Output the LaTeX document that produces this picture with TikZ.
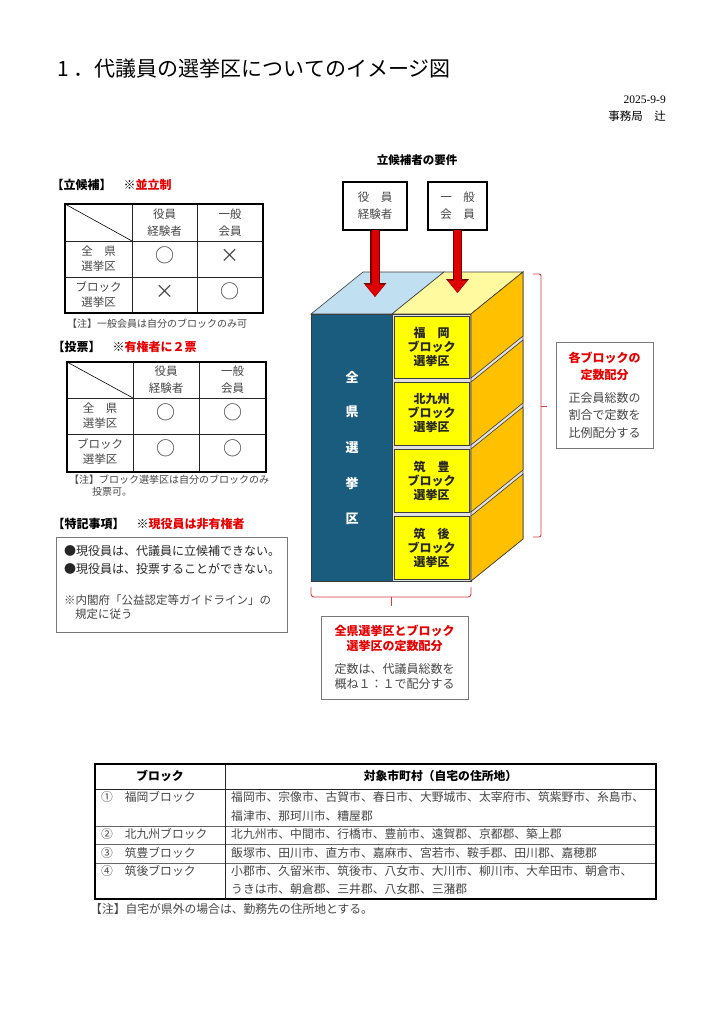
\documentclass[tikz,border=0pt]{standalone}
\usepackage{fontspec}
\setmainfont{Noto Sans CJK JP}
\newfontfamily\numserif{Liberation Serif}
\usetikzlibrary{arrows.meta}
\newcommand\fsz[2]{\fontsize{#1}{#2}\selectfont}
\definecolor{jred}{RGB}{230,0,0}
\definecolor{brk}{RGB}{215,60,60}
\definecolor{navy}{RGB}{26,92,126}
\definecolor{ltblue}{RGB}{192,224,242}
\definecolor{ltyel}{RGB}{255,250,160}
\definecolor{yel}{RGB}{255,255,0}
\definecolor{orng}{RGB}{255,192,0}
\definecolor{txtg}{RGB}{70,70,70}
\definecolor{edge}{RGB}{60,60,60}
\definecolor{arrred}{RGB}{222,0,0}
\definecolor{arrdark}{RGB}{120,0,0}
\definecolor{boxg}{RGB}{120,120,120}
\definecolor{gapg}{RGB}{225,225,225}
\begin{document}
\begin{tikzpicture}[x=1pt,y=-1pt,
  sl/.style={inner sep=0pt, text height=0.88em, text depth=0.12em},
  hdr/.style={sl, anchor=west, font=\fsz{12}{14}\bfseries},
  cellh/.style={inner sep=0pt, align=center, text=txtg, font=\fsz{11.5}{17}},
  cellr/.style={inner sep=0pt, align=center, text=txtg, font=\fsz{11.5}{15}},
  sym/.style={sl, text=txtg, font=\fsz{19}{20}},
  notetxt/.style={sl, anchor=west, text=txtg, font=\fsz{10}{12}},
  bodytxt/.style={sl, anchor=west, text=black!85, font=\fsz{12}{14}},
  tabtxt/.style={sl, anchor=west, text=txtg, font=\fsz{11.8}{14}},
  frame/.style={line width=1.8pt, black},
  gridline/.style={line width=0.8pt, black!85},
  candbox/.style={draw=black, line width=1.3pt, fill=white, inner sep=0pt, align=center, text=txtg, font=\fsz{11.5}{17}},
  blockbox/.style={fill=yel, draw=edge, line width=0.6pt, inner sep=0pt, align=center, font=\fsz{12}{14}\bfseries, text=black!85, minimum width=75},
  vtxt/.style={sl, text=white, font=\fsz{13}{14}\bfseries},
  side/.style={fill=orng, draw=edge, line width=0.6pt},
  bracket/.style={draw=brk, line width=0.9pt},
  infobox/.style={draw=boxg, line width=0.8pt, fill=white, inner sep=0pt, align=center, text=txtg},
  arrout/.style={line width=9.5pt, arrdark, -{Triangle[width=22pt,length=14pt]}},
  arrin/.style={line width=7pt, arrred, -{Triangle[width=19pt,length=12.5pt]}}
]
\useasboundingbox (0,0) rectangle (724,1024);
\fill[white] (0,0) rectangle (724,1024);

% ---------- heading ----------
\node[sl, anchor=west, font=\fsz{21}{25}] (title) at (57,73) {1\hspace{5pt}．代議員の選挙区についてのイメージ図};
\node[sl, anchor=east, font=\numserif\fsz{11.5}{13}] (date) at (666,100) {2025-9-9};
\node[sl, anchor=east, font=\fsz{11.5}{13}] (staff) at (666,117) {事務局　辻};

% ---------- left: candidacy ----------
\node[hdr] (h1) at (51.5,186) {【立候補】　※\textcolor{jred}{並立制}};
\draw[gridline] (132,204) -- (132,313) (197,204) -- (197,313) (65,241) -- (263,241) (65,277) -- (263,277);
\draw[line width=0.6pt] (65,204) -- (132,241);
\draw[frame] (65,204) rectangle (263,313);
\node[cellh] (t1h1) at (164.5,222.5) {役員\\経験者};
\node[cellh] (t1h2) at (230,222.5) {一般\\会員};
\node[cellr] (t1r1) at (98.5,259) {全　県\\選挙区};
\node[cellr] (t1r2) at (98.5,295) {ブロック\\選挙区};
\node[sym] (t1a) at (164.5,259) {○};
\node[sym] (t1b) at (230,259) {×};
\node[sym] (t1c) at (164.5,295) {×};
\node[sym] (t1d) at (230,295) {○};
\node[notetxt] (n1) at (67,324) {【注】一般会員は自分のブロックのみ可};

% ---------- left: voting ----------
\node[hdr] (h2) at (52.5,348) {【投票】　※\textcolor{jred}{有権者に２票}};
\draw[gridline] (133,362) -- (133,472) (199,362) -- (199,472) (67,398) -- (266,398) (67,434) -- (266,434);
\draw[line width=0.6pt] (67,362) -- (133,398);
\draw[frame] (67,362) rectangle (266,472);
\node[cellh] (t2h1) at (166,380) {役員\\経験者};
\node[cellh] (t2h2) at (232.5,380) {一般\\会員};
\node[cellr] (t2r1) at (100,416) {全　県\\選挙区};
\node[cellr] (t2r2) at (100,452) {ブロック\\選挙区};
\node[sym] (t2a) at (166,416) {○};
\node[sym] (t2b) at (232.5,416) {○};
\node[sym] (t2c) at (166,452) {○};
\node[sym] (t2d) at (232.5,452) {○};
\node[notetxt] (n2) at (69,480) {【注】ブロック選挙区は自分のブロックのみ};
\node[notetxt] (n2b) at (92,492) {投票可。};

% ---------- left: special notes ----------
\node[hdr] (h3) at (52.5,525) {【特記事項】　※\textcolor{jred}{現役員は非有権者}};
\node[draw=boxg, line width=0.8pt, minimum width=231, minimum height=95, inner sep=0pt] (spbox) at (171.5,584.5) {};
\node[bodytxt] (s1) at (64,552) {●現役員は、代議員に立候補できない。};
\node[bodytxt] (s2) at (64,570) {●現役員は、投票することができない。};
\node[tabtxt, font=\fsz{11.5}{13}] (s3) at (64,601) {※内閣府「公益認定等ガイドライン」の};
\node[tabtxt, font=\fsz{11.5}{13}] (s4) at (75,615) {規定に従う};

% ---------- cube ----------
\node[sl, font=\fsz{11.5}{14}\bfseries] (req) at (417,161) {立候補者の要件};
\filldraw[fill=ltblue, draw=edge, line width=0.6pt] (311,314) -- (363,272) -- (444,272) -- (392,314) -- cycle;
\filldraw[fill=ltyel, draw=edge, line width=0.6pt] (392,314) -- (444,272) -- (523,272) -- (471,314) -- cycle;
\filldraw[fill=navy, draw=edge, line width=0.6pt] (311,314) rectangle (392,581);
\filldraw[fill=gapg, draw=edge, line width=0.6pt] (392,314) rectangle (471,581);
\filldraw[fill=gapg, draw=edge, line width=0.6pt] (471,314) -- (523,272) -- (523,539) -- (471,581) -- cycle;
\filldraw[side] (471,314) -- (523,272) -- (523,336) -- (471,378) -- cycle;
\filldraw[side] (471,382) -- (523,340) -- (523,403) -- (471,445) -- cycle;
\filldraw[side] (471,449) -- (523,407) -- (523,470) -- (471,512) -- cycle;
\filldraw[side] (471,516) -- (523,474) -- (523,539) -- (471,581) -- cycle;
\node[blockbox, minimum height=62] (blk1) at (431.5,347) {福　岡\\ブロック\\選挙区};
\node[blockbox, minimum height=63] (blk2) at (431.5,413.5) {北九州\\ブロック\\選挙区};
\node[blockbox, minimum height=63] (blk3) at (431.5,480.5) {筑　豊\\ブロック\\選挙区};
\node[blockbox, minimum height=63] (blk4) at (431.5,547.5) {筑　後\\ブロック\\選挙区};
\node[vtxt] (v1) at (352,379) {全};
\node[vtxt] (v2) at (352,413) {県};
\node[vtxt] (v3) at (352,449) {選};
\node[vtxt] (v4) at (352,485) {挙};
\node[vtxt] (v5) at (352,520) {区};

% candidate boxes and arrows
\node[candbox, minimum width=64, minimum height=48] (c1) at (375,206) {役　員\\経験者};
\node[candbox, minimum width=59, minimum height=48] (c2) at (457.5,206) {一　般\\会　員};
\coordinate (tip1) at (375,297);
\coordinate (tip2) at (457.5,293);
\draw[arrout] (c1.south) -- (tip1);
\draw[arrin] ([yshift=0.7pt]c1.south) -- (tip1);
\draw[arrout] (c2.south) -- (tip2);
\draw[arrin] ([yshift=0.7pt]c2.south) -- (tip2);

% brackets
\draw[bracket, rounded corners=3pt] (311,587) -- (311,597) -- (471,597) -- (471,587);
\coordinate (bt) at (391,597);
\coordinate (bb) at (391,606);
\draw[bracket] (bt) -- (bb);
\draw[bracket, rounded corners=2pt] (533,274) -- (541,274) -- (541,537) -- (533,537);
\coordinate (rt) at (541,406);
\coordinate (rb) at (547,406);
\draw[bracket] (rt) -- (rb);

% info boxes
\node[infobox, minimum width=97, minimum height=106, font=\fsz{12}{17.5}] (rbox) at (604.5,395)
  {\textcolor{jred}{\bfseries 各ブロックの}\\\textcolor{jred}{\bfseries 定数配分}\\[5pt]正会員総数の\\割合で定数を\\比例配分する};
\node[infobox, minimum width=147, minimum height=83, font=\fsz{12}{15}] (bbox) at (394.5,657.5)
  {\textcolor{jred}{\bfseries 全県選挙区とブロック}\\\textcolor{jred}{\bfseries 選挙区の定数配分}\\[8pt]定数は、代議員総数を\\概ね１：１で配分する};

% ---------- bottom table ----------
\draw[gridline, black!60] (95,826) -- (656,826) (95,844) -- (656,844) (95,863) -- (656,863);
\draw[gridline] (95,789) -- (656,789) (225,764) -- (225,899);
\draw[line width=1.5pt] (95,764) rectangle (656,899);
\node[sl, font=\fsz{11.8}{14}\bfseries] (bh1) at (160,776.5) {ブロック};
\node[sl, font=\fsz{11.8}{14}\bfseries] (bh2) at (440.5,776.5) {対象市町村（自宅の住所地）};
\node[tabtxt] (r1a) at (101,798) {①　福岡ブロック};
\node[tabtxt] (r2a) at (101,835) {②　北九州ブロック};
\node[tabtxt] (r3a) at (101,854) {③　筑豊ブロック};
\node[tabtxt] (r4a) at (101,872) {④　筑後ブロック};
\node[tabtxt] (r1b) at (231,798) {福岡市、宗像市、古賀市、春日市、大野城市、太宰府市、筑紫野市、糸島市、};
\node[tabtxt] (r1c) at (231,817) {福津市、那珂川市、糟屋郡};
\node[tabtxt] (r2b) at (231,835) {北九州市、中間市、行橋市、豊前市、遠賀郡、京都郡、築上郡};
\node[tabtxt] (r3b) at (231,854) {飯塚市、田川市、直方市、嘉麻市、宮若市、鞍手郡、田川郡、嘉穂郡};
\node[tabtxt] (r4b) at (231,872) {小郡市、久留米市、筑後市、八女市、大川市、柳川市、大牟田市、朝倉市、};
\node[tabtxt] (r4c) at (231,890) {うきは市、朝倉郡、三井郡、八女郡、三潴郡};
\node[tabtxt] (bnote) at (90,910) {【注】自宅が県外の場合は、勤務先の住所地とする。};
\end{tikzpicture}
\end{document}
